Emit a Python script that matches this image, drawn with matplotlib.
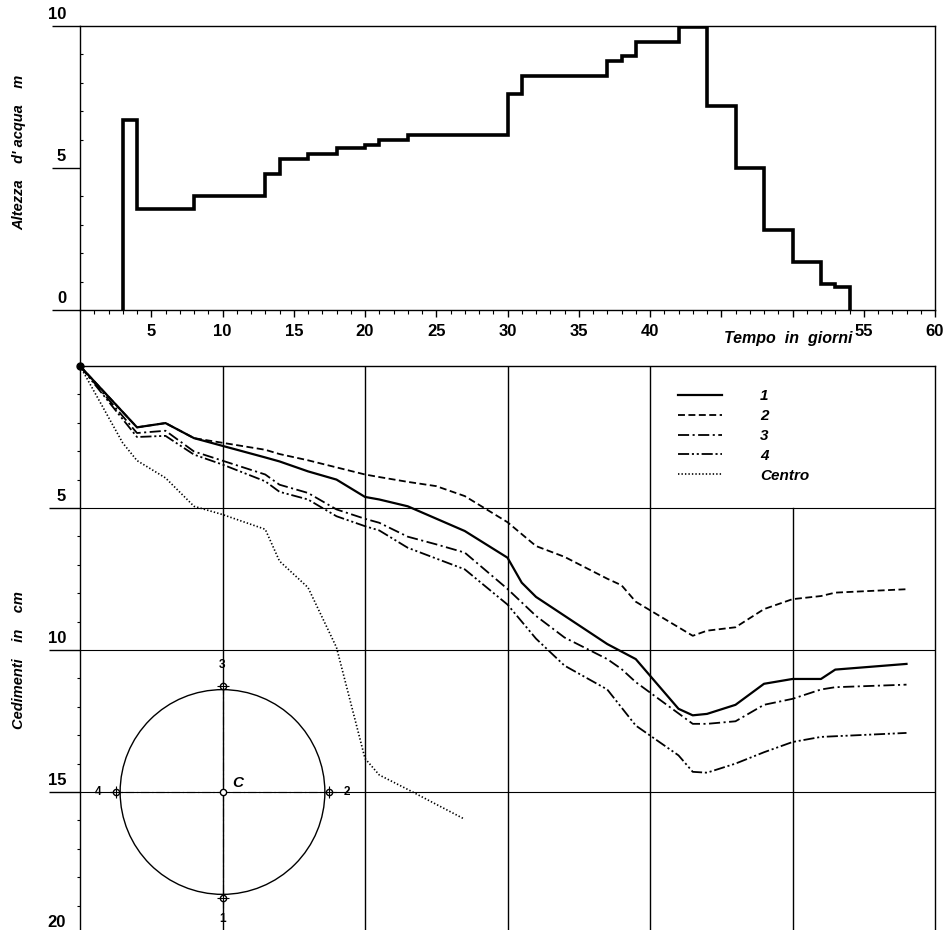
import matplotlib
matplotlib.use("Agg")
import matplotlib.pyplot as plt
import matplotlib.transforms as mtransforms
from matplotlib.lines import Line2D
from matplotlib.patches import Circle

plt.rcParams['font.family'] = ['Liberation Sans', 'DejaVu Sans']
plt.rcParams['lines.scale_dashes'] = False

# altezza d'acqua (gradini, steps-post)
wl_days = [3, 3, 4, 8, 13, 14, 16, 18, 20, 21, 23, 30, 31, 37, 38, 39, 42, 44, 46, 48, 50, 52, 53, 54]
wl_level = [0, 6.7, 3.55, 4.0, 4.8, 5.3, 5.5, 5.7, 5.8, 6.0, 6.15, 7.6, 8.25, 8.75, 8.95, 9.45, 9.95,
            7.2, 5.0, 2.8, 1.7, 0.9, 0.8, 0]

# cedimenti (cm) per punto di misura
days1 = [0, 4, 6, 8, 13, 14, 16, 18, 20, 21, 23, 27, 30, 31, 32, 37, 39, 42, 43, 44, 46, 48, 50, 52, 53, 58]
sed1 = [0, 2.16, 2.01, 2.54, 3.22, 3.36, 3.71, 4.0, 4.61, 4.7, 4.94, 5.81, 6.75, 7.63, 8.13, 9.79, 10.32,
        12.07, 12.3, 12.25, 11.93, 11.19, 11.02, 11.02, 10.69, 10.49]

days2 = [0, 4, 6, 8, 13, 14, 16, 18, 20, 21, 23, 25, 27, 30, 32, 34, 37, 38, 39, 43, 44, 46, 48, 50, 52, 53, 58]
sed2 = [0, 2.16, 2.01, 2.54, 2.95, 3.1, 3.32, 3.57, 3.82, 3.91, 4.08, 4.23, 4.58, 5.5, 6.34, 6.72, 7.49,
        7.72, 8.3, 9.5, 9.32, 9.2, 8.56, 8.21, 8.1, 7.98, 7.86]

days3 = [0, 4, 6, 8, 13, 14, 16, 18, 20, 21, 23, 25, 27, 30, 32, 34, 37, 38, 39, 43, 44, 46, 48, 50, 52, 53, 58]
sed3 = [0, 2.36, 2.28, 3.01, 3.82, 4.18, 4.47, 5.05, 5.38, 5.52, 6.01, 6.28, 6.57, 7.85, 8.8, 9.56, 10.32,
        10.67, 11.13, 12.6, 12.6, 12.51, 11.93, 11.72, 11.39, 11.31, 11.22]

days4 = [0, 4, 6, 8, 10, 13, 14, 16, 18, 20, 21, 23, 27, 30, 32, 34, 37, 39, 42, 43, 44, 46, 48, 50, 52, 58]
sed4 = [0, 2.5, 2.46, 3.12, 3.47, 4.06, 4.43, 4.7, 5.29, 5.64, 5.79, 6.4, 7.16, 8.4, 9.6, 10.55, 11.39,
        12.66, 13.71, 14.29, 14.32, 14.0, 13.6, 13.24, 13.06, 12.92]

daysC = [0, 3, 4, 6, 8, 10, 13, 14, 16, 18, 20, 21, 23, 27]
sedC = [0, 2.71, 3.33, 3.94, 4.94, 5.23, 5.75, 6.87, 7.8, 9.91, 13.82, 14.4, 14.91, 15.96]

series_labels = ['1', '2', '3', '4', 'Centro']
x_major = [5, 10, 15, 20, 25, 30, 35, 40, 45, 50, 55, 60]
x_labels = ['5', '10', '15', '20', '25', '30', '35', '40', '', '', '55', '60']

W, H = 946, 930
fig = plt.figure(figsize=(W / 100, H / 100), dpi=100)
lift = mtransforms.ScaledTranslation(0, 7 / 100, fig.dpi_scale_trans)


def style_ylabels(ax):
    # etichette sopra la tacca, come nel disegno originale
    for lab in ax.get_yticklabels():
        lab.set_fontweight('bold')
        lab.set_verticalalignment('baseline')
        lab.set_transform(lab.get_transform() + lift)


# pannello superiore
ax1 = fig.add_axes([80 / W, 1 - 310 / H, 855 / W, 284 / H])
ax1.plot(wl_days, wl_level, drawstyle='steps-post', color='black', lw=2.6, solid_joinstyle='miter')
ax1.set_xlim(0, 60)
ax1.set_ylim(0, 10)
ax1.set_yticks([0, 5, 10])
ax1.set_yticks(range(1, 10), minor=True)
ax1.set_xticks(x_major)
ax1.set_xticklabels(x_labels)
ax1.set_xticks(range(1, 60), minor=True)
ax1.tick_params(axis='y', which='major', direction='out', length=20, width=1, pad=-10,
                labelsize=12)
ax1.tick_params(axis='y', which='minor', direction='in', length=2.5, width=0.8)
ax1.tick_params(axis='x', which='major', direction='out', length=5, width=1, pad=5, labelsize=12)
ax1.tick_params(axis='x', which='minor', direction='out', length=3, width=0.8)
for lab in ax1.get_xticklabels():
    lab.set_fontweight('bold')
style_ylabels(ax1)
for sp in ax1.spines.values():
    sp.set_linewidth(1.0)
ax1.text(54.2, -0.1, 'Tempo  in  giorni', transform=ax1.get_xaxis_transform(), ha='right', va='center',
         fontsize=11.5, fontweight='bold', fontstyle='italic')
fig.text(19 / W, 1 - 152 / H, "Altezza    d' acqua    m", rotation=90, ha='center', va='center',
         fontsize=10.5, fontweight='bold', fontstyle='italic')

# pannello inferiore
ax2 = fig.add_axes([80 / W, 1 - 934 / H, 855 / W, 568 / H])
ax2.set_xlim(0, 60)
ax2.set_ylim(20, 0)
ax2.set_xticks([])
ax2.set_yticks([5, 10, 15, 20])
ax2.set_yticks(range(1, 20), minor=True)
ax2.tick_params(axis='y', which='major', direction='out', length=22, width=1, pad=-12, labelsize=12)
ax2.tick_params(axis='y', which='minor', direction='out', length=2.5, width=0.8)
style_ylabels(ax2)
for sp in ax2.spines.values():
    sp.set_linewidth(1.0)

for xv in [10, 20, 30, 40]:
    ax2.axvline(xv, color='black', lw=1.0)
ax2.plot([50, 50], [5, 20], color='black', lw=1.0)
for yv in [5, 10, 15]:
    ax2.axhline(yv, color='black', lw=0.8)

ax2.plot(days1, sed1, color='black', lw=1.6, ls='-', label=series_labels[0])
ax2.plot(days2, sed2, color='black', lw=1.3, ls=(0, (5, 2.5)), label=series_labels[1])
ax2.plot(days3, sed3, color='black', lw=1.3, ls=(0, (8, 2.5, 1.5, 2.5)), label=series_labels[2])
ax2.plot(days4, sed4, color='black', lw=1.3, ls=(0, (8, 2, 1.5, 2, 1.5, 2)), label=series_labels[3])
ax2.plot(daysC, sedC, color='black', lw=1.2, ls=(0, (1, 1.5)), label=series_labels[4])
ax2.plot([0], [0], 'o', color='black', ms=5, clip_on=False)

leg = ax2.legend(loc='upper left', bbox_to_anchor=(0.699, 0.959), frameon=False, borderpad=0,
                 borderaxespad=0, handlelength=2.9, handletextpad=2.5, labelspacing=0.38,
                 prop={'size': 11, 'weight': 'bold', 'style': 'italic'})

# schema della vasca
cx, cy = 10, 15
half_w = 130 / 855
half_h = 130 / 568
ins = ax2.inset_axes([cx / 60 - half_w, (1 - cy / 20) - half_h, 2 * half_w, 2 * half_h])
ins.set_xlim(-1.27, 1.27)
ins.set_ylim(-1.27, 1.27)
ins.axis('off')
ins.patch.set_alpha(0)
ins.add_patch(Circle((0, 0), 1.0, fill=False, lw=1.0, color='black'))
ins.plot([-1.1, 1.13], [0, 0], color='black', lw=0.8, ls=(0, (6, 2, 1, 2)))
ins.plot([0, 0], [-1.13, 1.1], color='black', lw=0.8, ls=(0, (6, 2, 1, 2)))
pt_x = [0, 1.04, 0, -1.04]
pt_y = [-1.04, 0, 1.04, 0]
pt_lab = ['1', '2', '3', '4']
ins.plot(pt_x + [0], pt_y + [0], 'o', mfc='white', mec='black', ms=4.5, mew=1.0)
ins.plot(pt_x, pt_y, '+', color='black', ms=9, mew=0.8)
for px_, py_, t in zip(pt_x, pt_y, pt_lab):
    ins.text(px_ * 1.17, py_ * 1.19, t, ha='center', va='center', fontsize=8.5, fontweight='bold')
ins.text(0.1, 0.09, 'C', ha='left', va='center', fontsize=11, fontweight='bold', fontstyle='italic')

fig.text(19 / W, 1 - 660 / H, 'Cedimenti    in    cm', rotation=90, ha='center', va='center',
         fontsize=10.5, fontweight='bold', fontstyle='italic')

# asse sinistro continuo tra i due pannelli
fig.add_artist(Line2D([80 / W, 80 / W], [1 - 310 / H, 1 - 366 / H], color='black', lw=1.0))

fig.savefig('out.png', dpi=100)
